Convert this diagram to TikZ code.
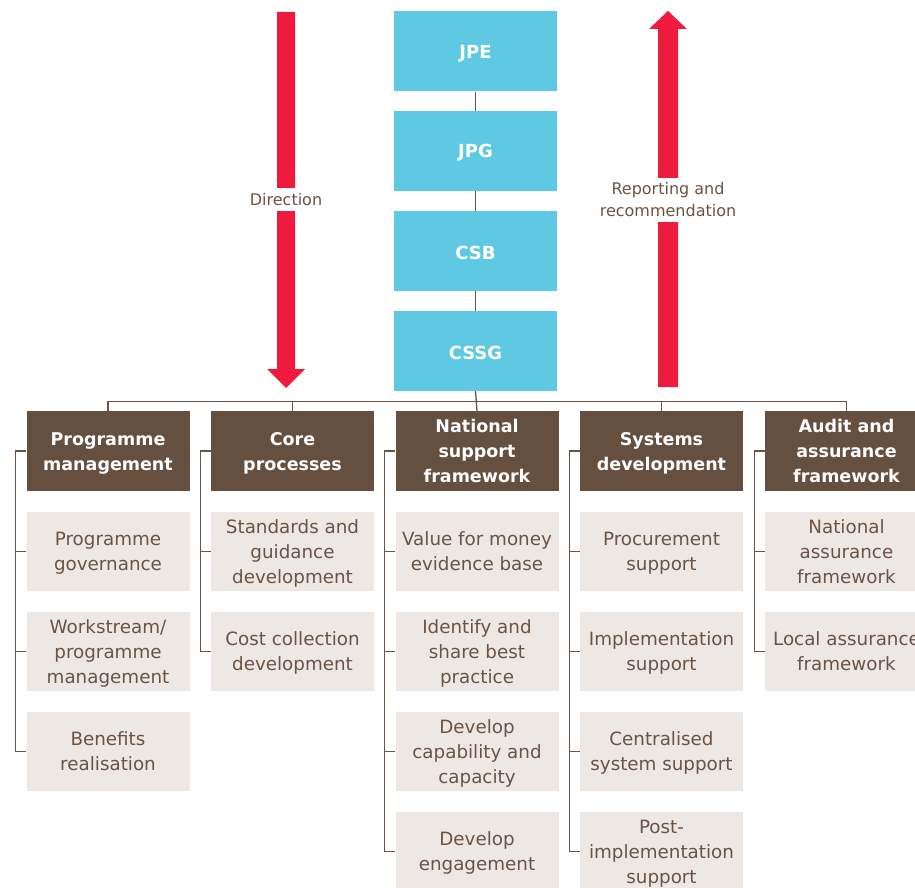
\documentclass[tikz,border=0pt]{standalone}
\usepackage{fontspec}
\setmainfont{DejaVu Sans}
\definecolor{hdrbrown}{HTML}{654F3F}
\definecolor{subfill}{HTML}{EDE8E4}
\definecolor{subtext}{HTML}{6B5444}
\definecolor{linecol}{HTML}{6B5444}
\definecolor{boxblue}{HTML}{5FC9E3}
\definecolor{arrred}{HTML}{EE1B3E}
\newcommand\cellfix[1]{\rule{0pt}{18pt}#1\rule[-5pt]{0pt}{5pt}}
\begin{document}
\begin{tikzpicture}[x=1pt,y=-1pt,
  bluebox/.style={fill=boxblue,text=white,minimum width=163pt,minimum height=80pt,inner sep=0pt,font=\fontsize{18}{24}\selectfont\bfseries,execute at begin node={\rule{0pt}{17pt}}},
  hdr/.style={fill=hdrbrown,text=white,minimum width=163pt,minimum height=80pt,inner sep=0pt,align=center,font=\fontsize{17.5}{25}\selectfont\bfseries},
  sub/.style={fill=subfill,text=subtext,minimum width=163pt,minimum height=79pt,inner sep=0pt,align=center,font=\fontsize{18.3}{25}\selectfont},
  conn/.style={draw=linecol,line width=1.3pt},
  lbl/.style={fill=white,text=subtext,align=center,inner sep=1pt,font=\fontsize{16}{22}\selectfont}]
\clip (0,0) rectangle (915,888);
\path[use as bounding box] (0,0) rectangle (915,888);

% blue stack
\node[bluebox] (jpe) at (475.5,51.5) {JPE};
\node[bluebox] (jpg) at (475.5,151) {JPG};
\node[bluebox] (csb) at (475.5,251) {CSB};
\node[bluebox] (cssg) at (475.5,351) {CSSG};
\draw[conn] (jpe.south) -- (jpg.north);
\draw[conn] (jpg.south) -- (csb.north);
\draw[conn] (csb.south) -- (cssg.north);

% red arrows
\fill[arrred] (277,12) -- (295,12) -- (295,369) -- (305,369) -- (286,388) -- (267,369) -- (277,369) -- cycle;
\fill[arrred] (658,387) -- (678,387) -- (678,29) -- (687,29) -- (668,11) -- (649,29) -- (658,29) -- cycle;
\node[lbl,minimum height=23pt] (dir) at (286,199.5) {Direction};
\node[lbl,minimum height=44pt] (rep) at (668,199.5) {Reporting and\\recommendation};

% headers
\node[hdr] (h1) at (108,451) {\cellfix{Programme\\management}};
\node[hdr] (h2) at (292.5,451) {\cellfix{Core\\processes}};
\node[hdr] (h3) at (477,451) {\cellfix{National\\support\\framework}};
\node[hdr] (h4) at (661.5,451) {\cellfix{Systems\\development}};
\node[hdr] (h5) at (846.5,451) {\cellfix{Audit and\\assurance\\framework}};

% sub boxes
\node[sub] (s11) at (108,551.5) {\cellfix{Programme\\governance}};
\node[sub] (s12) at (108,651.5) {\cellfix{Workstream/\\programme\\management}};
\node[sub] (s13) at (108,751.5) {\cellfix{Benefits\\realisation}};

\node[sub] (s21) at (292.5,551.5) {\cellfix{Standards and\\guidance\\development}};
\node[sub] (s22) at (292.5,651.5) {\cellfix{Cost collection\\development}};

\node[sub] (s31) at (477,551.5) {\cellfix{Value for money\\evidence base}};
\node[sub] (s32) at (477,651.5) {\cellfix{Identify and\\share best\\practice}};
\node[sub] (s33) at (477,751.5) {\cellfix{Develop\\capability and\\capacity}};
\node[sub] (s34) at (477,851.5) {\cellfix{Develop\\engagement}};

\node[sub] (s41) at (661.5,551.5) {\cellfix{Procurement\\support}};
\node[sub] (s42) at (661.5,651.5) {\cellfix{Implementation\\support}};
\node[sub] (s43) at (661.5,751.5) {\cellfix{Centralised\\system support}};
\node[sub] (s44) at (661.5,851.5) {\cellfix{Post-\\implementation\\support}};

\node[sub] (s51) at (846.5,551.5) {\cellfix{National\\assurance\\framework}};
\node[sub] (s52) at (846.5,651.5) {\cellfix{Local assurance\\framework}};

% top bus
\coordinate (bus) at (475,401.5);
\draw[conn] (h1.north) -- (h1.north |- bus) -- (h5.north |- bus) -- (h5.north);
\draw[conn] (h2.north) -- (h2.north |- bus);
\draw[conn] (h4.north) -- (h4.north |- bus);
\draw[conn] (cssg.south) -- (h3.north);

% side connectors
\foreach \h/\last/\others in {h1/s13/{s11,s12},h2/s22/{s21},h3/s34/{s31,s32,s33},h4/s44/{s41,s42,s43},h5/s52/{s51}}{
  \draw[conn] (\h.west) -- ++(-10.5,0) |- (\last.west);
  \foreach \s in \others { \draw[conn] (\s.west) -- ++(-10.5,0); }
}
\end{tikzpicture}
\end{document}
